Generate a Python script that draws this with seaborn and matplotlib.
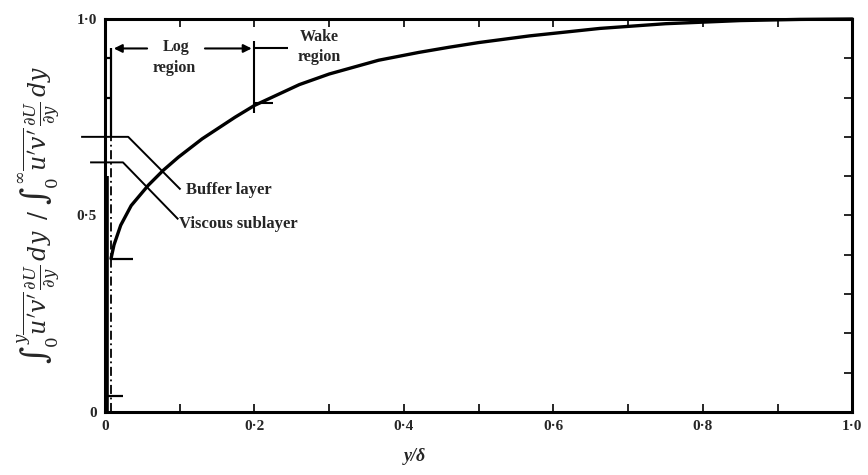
import matplotlib
matplotlib.use("Agg")
import matplotlib.pyplot as plt
from matplotlib.ticker import MultipleLocator, FixedLocator
import seaborn as sns
import pandas as pd

# Cumulative share of turbulent energy production across the boundary layer
y_over_delta = [0.008, 0.012, 0.021, 0.035, 0.058, 0.078, 0.098, 0.130, 0.174,
                0.200, 0.260, 0.300, 0.366, 0.420, 0.460, 0.500, 0.568, 0.662,
                0.750, 0.850, 0.930, 1.000]
production_fraction = [0.39, 0.425, 0.475, 0.525, 0.577, 0.615, 0.648, 0.695,
                       0.750, 0.780, 0.833, 0.860, 0.895, 0.915, 0.928, 0.940,
                       0.957, 0.976, 0.988, 0.996, 0.999, 1.000]

x_ticks = [0.0, 0.2, 0.4, 0.6, 0.8, 1.0]
x_tick_labels = ["0", "0·2", "0·4", "0·6", "0·8", "1·0"]
y_ticks = [0.0, 0.5, 1.0]
y_tick_labels = ["0", "0·5", "1·0"]

# Edges of the near-wall layers (fraction of total production)
viscous_top = 0.635
buffer_top = 0.70
log_start_x = 0.008
log_end_x = 0.2

df = pd.DataFrame({"y_delta": y_over_delta, "frac": production_fraction})

sns.set_style("white")
plt.rcParams["font.family"] = ["Liberation Serif", "DejaVu Serif"]
plt.rcParams["mathtext.fontset"] = "dejavuserif"

fig = plt.figure(figsize=(8.68, 4.75), dpi=100)
ax = fig.add_axes([0.121, 0.133, 0.861, 0.827])

sns.lineplot(data=df, x="y_delta", y="frac", color="black", lw=2.4,
             ax=ax, clip_on=False)

ax.set_xlim(0, 1.0)
ax.set_ylim(0, 1.0)

for side in ["left", "right", "top", "bottom"]:
    ax.spines[side].set_visible(True)
    ax.spines[side].set_color("black")
    ax.spines[side].set_linewidth(2.2)

ax.xaxis.set_major_locator(FixedLocator(x_ticks))
ax.set_xticklabels(x_tick_labels)
ax.xaxis.set_minor_locator(MultipleLocator(0.1))
ax.yaxis.set_major_locator(FixedLocator(y_ticks))
ax.set_yticklabels(y_tick_labels)
ax.yaxis.set_minor_locator(MultipleLocator(0.1))
ax.tick_params(axis="x", which="both", direction="in", top=True, bottom=True,
               length=6, width=1.4, labelsize=11, pad=6)
ax.tick_params(axis="y", which="both", direction="in", left=False, right=True,
               length=6, width=1.4, labelsize=11, pad=6)
for lab in ax.get_xticklabels() + ax.get_yticklabels():
    lab.set_fontweight("bold")

ax.set_xlabel("y/δ", fontsize=13, fontweight="bold", fontstyle="italic")
ax.xaxis.set_label_coords(0.415, -0.092)
ax.set_ylabel(r"$\int_0^{y}\overline{u'v'}\,\frac{\partial U}{\partial y}\,dy"
              r"\;\;/\;\int_0^{\infty}\overline{u'v'}\,\frac{\partial U}{\partial y}\,dy$",
              fontsize=17)
ax.yaxis.set_label_coords(-0.058, 0.5)

k = dict(color="black", solid_capstyle="butt", clip_on=False)

# Near-wall bar between the wall and the edge of the viscous region
ax.plot([0.003, 0.003], [0.0, 0.6], lw=2.6, **k)
ax.plot([log_start_x, log_start_x], [0.0, buffer_top], lw=1.3,
        ls=(0, (5, 2, 1, 2)), color="black", clip_on=False)
ax.plot([log_start_x, log_start_x], [buffer_top, 0.925], lw=1.6, **k)
for yb in [0.90, 0.80]:
    ax.plot([0.0, log_start_x], [yb, yb], lw=1.6, **k)
ax.plot([log_start_x, 0.038], [0.39, 0.39], lw=1.6, **k)
ax.plot([0.0, 0.024], [0.04, 0.04], lw=1.6, **k)

# Buffer layer and viscous sublayer leaders
ax.plot([-0.032, 0.031, 0.101], [buffer_top, buffer_top, 0.566], lw=1.4, **k)
ax.plot([-0.02, 0.024, 0.098], [viscous_top, viscous_top, 0.49], lw=1.4, **k)
ax.text(0.108, 0.565, "Buffer layer", fontsize=12, fontweight="bold",
        ha="left", va="center")
ax.text(0.099, 0.478, "Viscous sublayer", fontsize=12, fontweight="bold",
        ha="left", va="center")

# Log region and wake region span
y_arrow = 0.925
arrow = dict(arrowstyle="-|>", color="black", lw=1.5, mutation_scale=12)
ax.annotate("", xy=(log_start_x, y_arrow), xytext=(0.06, y_arrow),
            arrowprops=arrow, annotation_clip=False)
ax.annotate("", xy=(log_end_x, y_arrow), xytext=(0.13, y_arrow),
            arrowprops=arrow)
ax.plot([log_end_x, 0.245], [y_arrow, y_arrow], lw=1.5, **k)
ax.plot([log_end_x, log_end_x], [0.945, 0.76], lw=1.5, **k)
ax.plot([log_end_x, 0.225], [0.785, 0.785], lw=1.5, **k)
ax.text(0.095, 0.928, "Log", fontsize=11.5, fontweight="bold",
        ha="center", va="center")
ax.text(0.092, 0.875, "region", fontsize=11.5, fontweight="bold",
        ha="center", va="center")
ax.text(0.287, 0.955, "Wake", fontsize=11.5, fontweight="bold",
        ha="center", va="center")
ax.text(0.287, 0.902, "region", fontsize=11.5, fontweight="bold",
        ha="center", va="center")

fig.savefig("out.png", dpi=100)
